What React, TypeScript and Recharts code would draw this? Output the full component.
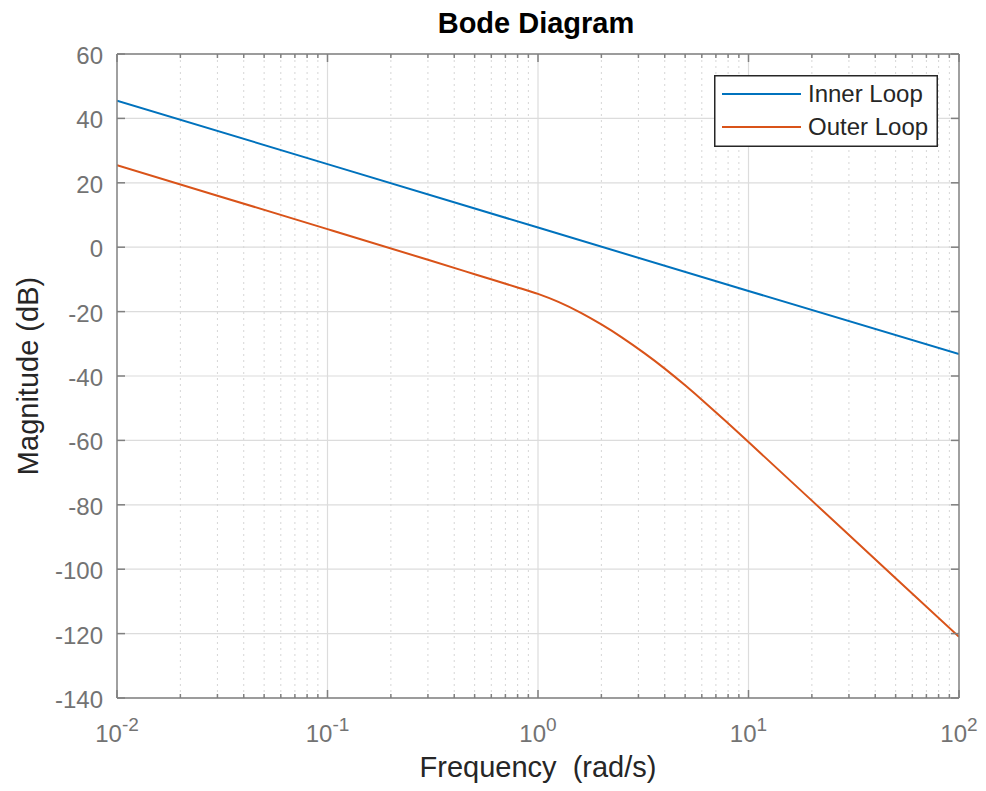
import { LineChart, Line, XAxis, YAxis, CartesianGrid, ReferenceLine, Legend } from 'recharts';

// frequencies in rad/s, magnitudes in dB
const innerFreq = [0.01, 0.1, 1, 10, 100];
const innerMag = [45.5, 25.8, 6.1, -13.6, -33.2];

const outerFreq = [0.01, 0.03, 0.1, 0.3, 0.5, 0.8, 1, 1.25, 1.6, 2, 2.5, 3.2, 4, 5, 6.3, 8, 10, 20, 50, 100];
const outerMag = [25.5, 16, 5.6, -3.9, -8.4, -12.5, -14.5, -17, -20.4, -24, -28, -32.9, -37.7, -42.9, -48.6, -54.7, -60.5, -78.7, -102.8, -121];

const xMajor = [0.01, 0.1, 1, 10, 100];
const xMinor = [
  0.02, 0.03, 0.04, 0.05, 0.06, 0.07, 0.08, 0.09,
  0.2, 0.3, 0.4, 0.5, 0.6, 0.7, 0.8, 0.9,
  2, 3, 4, 5, 6, 7, 8, 9,
  20, 30, 40, 50, 60, 70, 80, 90,
];
const yTicks = [-140, -120, -100, -80, -60, -40, -20, 0, 20, 40, 60];

const seriesNames = ['Inner Loop', 'Outer Loop'];
const colors = ['#0072BD', '#D95319'];

const innerData = innerFreq.map((f, i) => ({ freq: f, mag: innerMag[i] }));
const outerData = outerFreq.map((f, i) => ({ freq: f, mag: outerMag[i] }));
const xAll = [...xMajor, ...xMinor].sort((a, b) => a - b);

const FONT = '"Liberation Sans", Arial, Helvetica, sans-serif';
const AXIS = '#808080';
const TICKTEXT = '#737373';

const isMajor = (v: number) => xMajor.includes(v);

function BottomTick(props: any) {
  const { x, y, payload } = props;
  const v = payload.value;
  const len = isMajor(v) ? 8 : 4;
  return (
    <g>
      <line x1={x} y1={y} x2={x} y2={y - len} stroke={AXIS} strokeWidth={1.5} />
      {isMajor(v) && (
        <text x={x} y={y + 44} textAnchor="middle" fill={TICKTEXT} fontFamily={FONT}>
          <tspan fontSize={24}>10</tspan>
          <tspan fontSize={19} dy={-11}>{Math.round(Math.log10(v))}</tspan>
        </text>
      )}
    </g>
  );
}

function TopTick(props: any) {
  const { x, y, payload } = props;
  const len = isMajor(payload.value) ? 8 : 4;
  return <line x1={x} y1={y} x2={x} y2={y + len} stroke={AXIS} strokeWidth={1.5} />;
}

function LeftTick(props: any) {
  const { x, y, payload } = props;
  return (
    <g>
      <line x1={x} y1={y} x2={x + 8} y2={y} stroke={AXIS} strokeWidth={1.5} />
      <text x={x - 14} y={y + 10} textAnchor="end" fill={TICKTEXT} fontSize={24} fontFamily={FONT}>
        {payload.value}
      </text>
    </g>
  );
}

function RightTick(props: any) {
  const { x, y } = props;
  return <line x1={x} y1={y} x2={x - 8} y2={y} stroke={AXIS} strokeWidth={1.5} />;
}

function BodeLegend() {
  return (
    <svg width={224} height={72} style={{ display: 'block' }}>
      <rect x={0.75} y={0.75} width={222.5} height={70.5} fill="#fff" stroke="#262626" strokeWidth={1.5} />
      {seriesNames.map((name, i) => (
        <g key={name}>
          <line x1={8} y1={19 + i * 33} x2={87} y2={19 + i * 33} stroke={colors[i]} strokeWidth={2} />
          <text x={94} y={27 + i * 33} fontSize={24} fontFamily={FONT} fill="#262626">
            {name}
          </text>
        </g>
      ))}
    </svg>
  );
}

export default function App() {
  return (
    <div style={{ position: 'absolute', left: 0, top: 0, width: 986, height: 791, background: '#fff' }}>
      <LineChart width={986} height={791} margin={{ top: 53, right: 26, left: 0, bottom: 0 }}>
        <CartesianGrid vertical={false} stroke="#dcdcdc" strokeWidth={1.2} />
        {xMinor.map((v) => (
          <ReferenceLine key={'m' + v} x={v} stroke="#d6d6d6" strokeDasharray="2 4" strokeWidth={1} />
        ))}
        {xMajor.slice(1, -1).map((v) => (
          <ReferenceLine key={'M' + v} x={v} stroke="#dcdcdc" strokeWidth={1.2} />
        ))}
        <XAxis
          dataKey="freq"
          type="number"
          scale="log"
          domain={[0.01, 100]}
          ticks={xAll}
          interval={0}
          allowDataOverflow
          height={93}
          tickSize={0}
          tickMargin={0}
          tickLine={false}
          tick={BottomTick}
          axisLine={{ stroke: AXIS, strokeWidth: 1.5 }}
          label={{
            value: 'Frequency \u00A0(rad/s)',
            position: 'insideBottom',
            offset: 14,
            fontSize: 29,
            fontFamily: FONT,
            fill: '#262626',
          }}
        />
        <XAxis
          xAxisId="top"
          dataKey="freq"
          orientation="top"
          type="number"
          scale="log"
          domain={[0.01, 100]}
          ticks={xAll}
          interval={0}
          allowDataOverflow
          height={1}
          tickSize={0}
          tickMargin={0}
          tickLine={false}
          tick={TopTick}
          axisLine={{ stroke: AXIS, strokeWidth: 1.5 }}
        />
        <YAxis
          type="number"
          domain={[-140, 60]}
          ticks={yTicks}
          interval={0}
          allowDataOverflow
          width={117}
          tickSize={0}
          tickMargin={0}
          tickLine={false}
          tick={LeftTick}
          axisLine={{ stroke: AXIS, strokeWidth: 1.5 }}
          label={{
            value: 'Magnitude (dB)',
            angle: -90,
            position: 'insideLeft',
            offset: 28,
            fontSize: 29,
            fontFamily: FONT,
            fill: '#262626',
            style: { textAnchor: 'middle' },
          }}
        />
        <YAxis
          yAxisId="right"
          orientation="right"
          type="number"
          domain={[-140, 60]}
          ticks={yTicks}
          interval={0}
          allowDataOverflow
          width={1}
          tickSize={0}
          tickMargin={0}
          tickLine={false}
          tick={RightTick}
          axisLine={{ stroke: AXIS, strokeWidth: 1.5 }}
        />
        <Legend
          layout="horizontal"
          verticalAlign="middle"
          align="center"
          content={() => <BodeLegend />}
          wrapperStyle={{ position: 'absolute', left: 714, top: 75, width: 224, height: 72 }}
        />
        {/* invisible series so the top and right frame axes get drawn */}
        <Line
          data={innerData}
          dataKey="mag"
          xAxisId="top"
          yAxisId="right"
          stroke="none"
          dot={false}
          activeDot={false}
          legendType="none"
          isAnimationActive={false}
        />
        <Line
          data={innerData}
          dataKey="mag"
          name={seriesNames[0]}
          type="linear"
          stroke={colors[0]}
          strokeWidth={2}
          dot={false}
          isAnimationActive={false}
        />
        <Line
          data={outerData}
          dataKey="mag"
          name={seriesNames[1]}
          type="natural"
          stroke={colors[1]}
          strokeWidth={2}
          dot={false}
          isAnimationActive={false}
        />
      </LineChart>
      <svg
        width={986}
        height={50}
        style={{ position: 'absolute', left: 0, top: 0, pointerEvents: 'none' }}
      >
        <text x={536} y={33} textAnchor="middle" fontSize={29} fontWeight="bold" fontFamily={FONT} fill="#000">
          Bode Diagram
        </text>
      </svg>
    </div>
  );
}
